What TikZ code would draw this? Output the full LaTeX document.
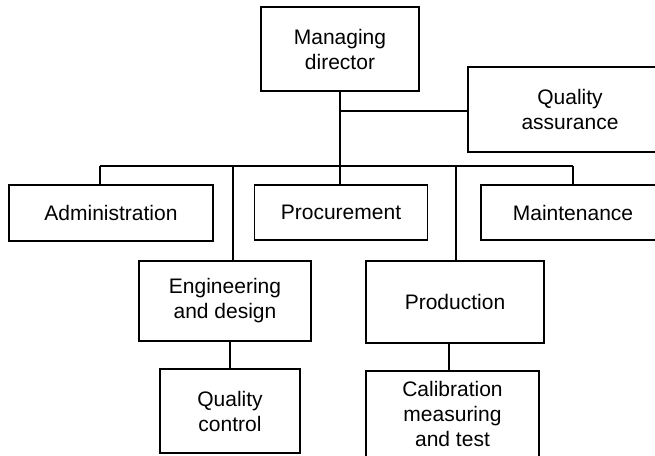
\documentclass[tikz,border=0pt]{standalone}
\usepackage{fontspec}
\setmainfont{Liberation Sans}
\begin{document}
\begin{tikzpicture}[x=1pt,y=-1pt,
  orgbox/.style={draw=black,line width=1.2pt,rectangle,inner sep=0pt,align=center,
    font=\fontsize{21}{25}\selectfont},
  plaintext/.style={inner sep=0pt,align=center,font=\fontsize{21}{25}\selectfont},
  link/.style={draw=black,line width=1.2pt}]
\useasboundingbox (0,0) rectangle (655,455);
\fill[white] (0,0) rectangle (655,455);
% top level
\node[orgbox,minimum width=158pt,minimum height=84pt] (md) at (340,49) {Managing\\director};
\node[orgbox,minimum width=204pt,minimum height=85pt] (qa) at (570,109.5) {Quality\\assurance};
% second level
\node[orgbox,minimum width=204pt,minimum height=56pt] (adm) at (111,213) {Administration};
\node[orgbox,minimum width=173pt,minimum height=55pt] (proc) at (341,212.5) {Procurement};
\node[orgbox,minimum width=184pt,minimum height=55pt] (mnt) at (573,212.5) {Maintenance};
% third level
\node[orgbox,minimum width=172pt,minimum height=80pt] (eng) at (225,301) {Engineering\\and design};
\node[orgbox,minimum width=178pt,minimum height=82pt] (prod) at (455,302) {Production};
% fourth level
\node[orgbox,minimum width=140pt,minimum height=84pt] (qc) at (230,411) {Quality\\control};
\node[orgbox,minimum width=173pt,minimum height=104pt] (cal) at (452.5,423) {};
\node[plaintext] (caltext) at (452.5,414) {Calibration\\measuring\\and test};
% junctions
\coordinate (jqa) at (340,111);
\coordinate (busL) at (100,166);
\coordinate (busR) at (573,166);
\coordinate (busE) at (233,166);
\coordinate (busP) at (456,166);
\coordinate (calx) at (449,400);
% connectors
\draw[link] (md.south -| jqa) -- (jqa |- proc.north);
\draw[link] (jqa) -- (jqa -| qa.west);
\draw[link] (busL) -- (busR);
\draw[link] (busL) -- (busL |- adm.north);
\draw[link] (busR) -- (busR |- mnt.north);
\draw[link] (busE) -- (busE |- eng.north);
\draw[link] (busP) -- (busP |- prod.north);
\draw[link] (qc.north |- eng.south) -- (qc.north);
\draw[link] (calx |- prod.south) -- (calx |- cal.north);
\end{tikzpicture}
\end{document}
